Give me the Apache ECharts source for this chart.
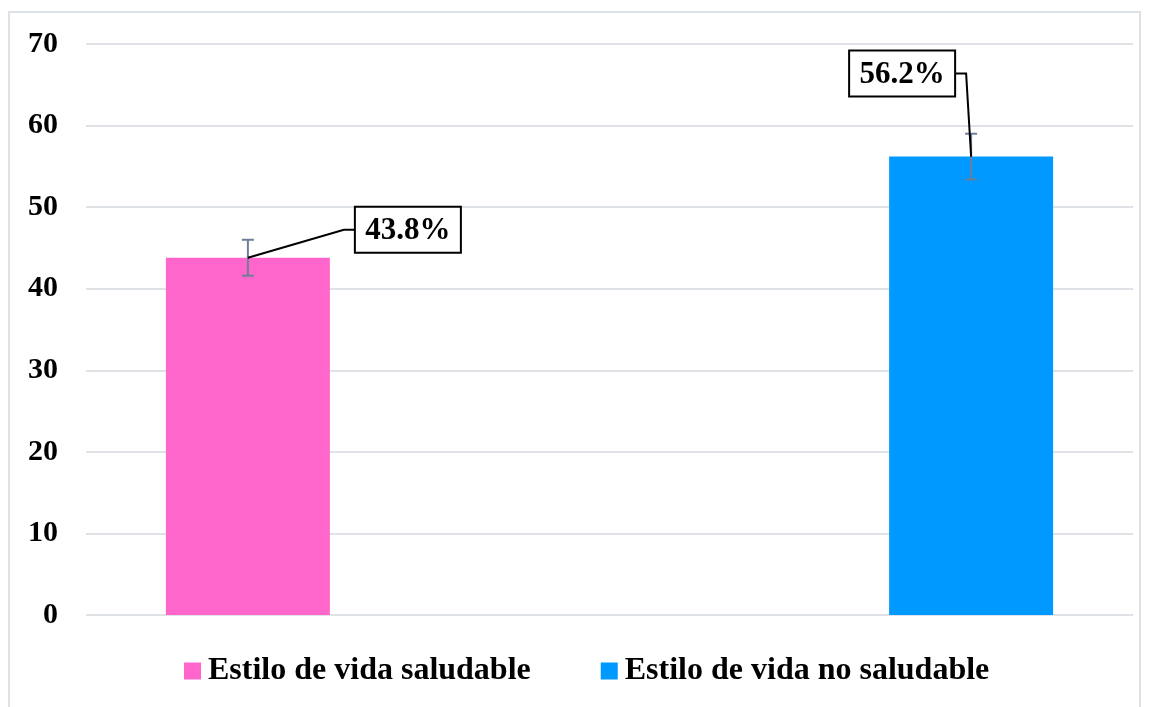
<!DOCTYPE html>
<html><head><meta charset="utf-8">
<script src="https://cdn.jsdelivr.net/npm/echarts@6/dist/echarts.min.js"></script>
<style>html,body{margin:0;padding:0;background:#fff}#c{width:1149px;height:707px}</style>
</head><body><div id="c"></div>
<script>
const categories = [''];
const seriesNames = ['Estilo de vida saludable', 'Estilo de vida no saludable'];
const values = [43.8, 56.2];
const errors = [2.2, 2.8];
const valueLabels = ['43.8%', '56.2%'];
const yTicks = [0, 10, 20, 30, 40, 50, 60, 70];
const colors = ['#ff66cc', '#0099ff'];

const BAR_W = 164, BAR_GAP = 3.41;
const labelDx = [160, -69], labelDy = [-28, -83];
const FONT = 'Liberation Serif, Times New Roman, serif';

const chart = echarts.init(document.getElementById('c'));
const errData = values.map((v, i) => [0, i, v, errors[i]]);

chart.setOption({
  animation: false,
  graphic: [{ type: 'rect', shape: { x: 9, y: 12, width: 1131, height: 710 },
    style: { fill: 'none', stroke: '#dde2e8', lineWidth: 2 }, silent: true, z: -1 }],
  grid: { left: 86, right: 16, top: 44, bottom: 92 },
  legend: {
    bottom: 15, left: 179, itemWidth: 17, itemHeight: 17, itemGap: 70,
    icon: 'rect', data: seriesNames,
    textStyle: { fontFamily: FONT, fontWeight: 'bold', fontSize: 32, color: '#000', padding: [0, 0, 0, 2] }
  },
  xAxis: { type: 'category', data: categories, axisLine: { show: false },
    axisTick: { show: false }, axisLabel: { show: false } },
  yAxis: { type: 'value', min: yTicks[0], max: yTicks[yTicks.length - 1], interval: 10,
    axisLine: { show: false }, axisTick: { show: false },
    splitLine: { lineStyle: { color: '#dfe3e8', width: 2 } },
    axisLabel: { margin: 28, fontFamily: FONT, fontWeight: 'bold', fontSize: 30, color: '#000' } },
  series: [
    ...seriesNames.map((n, i) => ({
      name: n, type: 'bar', barWidth: BAR_W, barGap: (BAR_GAP * 100) + '%',
      itemStyle: { color: colors[i] }, data: [values[i]]
    })),
    {
      type: 'custom', data: errData, encode: { x: 0, y: 2 }, z: 10,
      renderItem: function (params, api) {
        const idx = api.value(1), v = api.value(2), e = api.value(3);
        const off = (idx === 0 ? -1 : 1) * BAR_W * (1 + BAR_GAP) / 2;
        const top = api.coord([api.value(0), v]);
        const x = top[0] + off, y = top[1];
        const hi = api.coord([0, v + e])[1], lo = api.coord([0, v - e])[1];
        const c = '#6d7f98';
        const lx = x + labelDx[idx], ly = y + labelDy[idx];
        const boxHalf = 53;
        const elbowX = idx === 0 ? lx - boxHalf - 11 : lx + boxHalf + 11;
        const edgeX = idx === 0 ? lx - boxHalf : lx + boxHalf;
        return { type: 'group', children: [
          { type: 'line', shape: { x1: x, y1: hi, x2: x, y2: lo }, style: { stroke: c, lineWidth: 2 } },
          { type: 'line', shape: { x1: x - 6, y1: hi, x2: x + 6, y2: hi }, style: { stroke: c, lineWidth: 2 } },
          { type: 'line', shape: { x1: x - 6, y1: lo, x2: x + 6, y2: lo }, style: { stroke: c, lineWidth: 2 } },
          { type: 'polyline', shape: { points: [[x, y], [elbowX, ly], [edgeX, ly]] },
            style: { stroke: '#000', lineWidth: 2, fill: 'none' } },
          { type: 'rect', shape: { x: lx - boxHalf, y: ly - 23, width: boxHalf * 2, height: 46 },
            style: { fill: '#fff', stroke: '#000', lineWidth: 2 } },
          { type: 'text', x: lx, y: ly + 1, style: { text: valueLabels[idx], fontFamily: FONT,
            fontWeight: 'bold', fontSize: 31, fill: '#000', align: 'center', verticalAlign: 'middle' } }
        ] };
      }
    }
  ]
});
</script></body></html>
